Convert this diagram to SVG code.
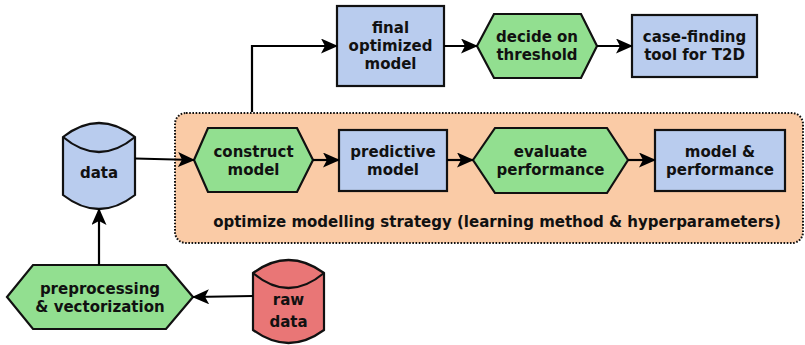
<svg xmlns="http://www.w3.org/2000/svg" width="805" height="345" viewBox="0 0 805 345">
<defs>
<marker id="arr" markerUnits="userSpaceOnUse" markerWidth="17" markerHeight="15" viewBox="0 0 17 15" refX="16" refY="7.5" orient="auto">
<path d="M0,0 L17,7.5 L0,15 L4,7.5 z" fill="#000"/>
</marker>
<style>
text{font-family:"DejaVu Sans","Liberation Sans",sans-serif;font-weight:bold;font-size:15px;fill:#111;text-anchor:middle;}
.blue{fill:#B9CCEE;stroke:#111;stroke-width:2.2;}
.green{fill:#92DF90;stroke:#111;stroke-width:2.2;}
.red{fill:#E97676;stroke:#111;stroke-width:2.2;}
.con{fill:none;stroke:#000;stroke-width:2.2;marker-end:url(#arr);}
</style>
</defs>
<g id="optimize-region">
<rect x="175" y="113" width="628" height="130" rx="11" fill="#FACBA6" stroke="#111" stroke-width="2" stroke-dasharray="1.6,1.6"/>
<text x="497" y="227">optimize modelling strategy (learning method &amp; hyperparameters)</text>
</g>
<g id="data">
<path class="blue" d="M63,137 Q99,109 135,137 L135,195 Q99,223 63,195 Z"/>
<path d="M63,137 Q99,167 135,137" fill="none" stroke="#111" stroke-width="2.2"/>
<text x="99" y="178">data</text>
</g>
<g id="raw-data">
<path class="red" d="M253,273 Q288.5,247 324,273 L324,330 Q288.5,356 253,330 Z"/>
<path d="M253,273 Q288.5,303 324,273" fill="none" stroke="#111" stroke-width="2.2"/>
<text x="288.5" y="305">raw</text>
<text x="288.5" y="327">data</text>
</g>
<g id="preprocessing">
<path class="green" d="M7,297 L33,265 L166,265 L193,297 L166,329 L33,329 Z"/>
<text x="100" y="294">preprocessing</text>
<text x="100" y="312">&amp; vectorization</text>
</g>
<g id="construct-model">
<path class="green" d="M194,160 L208,128 L297,128 L313,160 L297,192 L208,192 Z"/>
<text x="253.5" y="157">construct</text>
<text x="253.5" y="175">model</text>
</g>
<g id="predictive-model">
<rect class="blue" x="339" y="130" width="108" height="61"/>
<text x="393" y="157">predictive</text>
<text x="393" y="175">model</text>
</g>
<g id="evaluate-performance">
<path class="green" d="M473,160 L495,128 L607,128 L628,160 L607,193 L495,193 Z"/>
<text x="550.5" y="157">evaluate</text>
<text x="550.5" y="175">performance</text>
</g>
<g id="model-performance">
<rect class="blue" x="655" y="130" width="130" height="61"/>
<text x="720" y="157">model &amp;</text>
<text x="720" y="175">performance</text>
</g>
<g id="final-optimized-model">
<rect class="blue" x="337" y="6" width="107" height="80"/>
<text x="390.5" y="33">final</text>
<text x="390.5" y="51">optimized</text>
<text x="390.5" y="69">model</text>
</g>
<g id="decide-threshold">
<path class="green" d="M477,46 L494,14 L581,14 L597,46 L581,78 L494,78 Z"/>
<text x="537" y="42">decide on</text>
<text x="537" y="60">threshold</text>
</g>
<g id="case-finding">
<rect class="blue" x="632" y="15" width="125" height="62"/>
<text x="694.5" y="42">case-finding</text>
<text x="694.5" y="60">tool for T2D</text>
</g>
<g id="connectors">
<path class="con" d="M135,158.5 L194,160"/>
<path class="con" d="M99,265 L99,209"/>
<path class="con" d="M253,296 L193,297"/>
<path class="con" d="M252,112 L252,46 L337,46"/>
<path class="con" d="M444,46 L477,46"/>
<path class="con" d="M597,46 L632,46"/>
<path class="con" d="M313,160 L339,160"/>
<path class="con" d="M447,160 L473,160"/>
<path class="con" d="M628,160 L655,160"/>
</g>
</svg>
